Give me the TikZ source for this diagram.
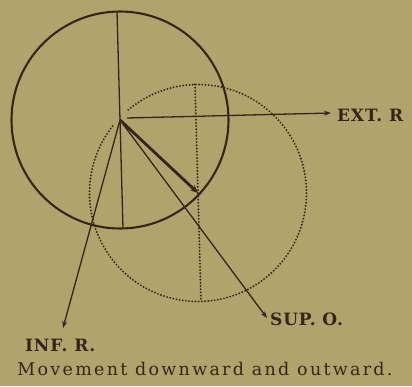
\documentclass[tikz,border=0pt]{standalone}
\usepackage{fontspec}
\setmainfont{DejaVu Serif}
\usetikzlibrary{arrows.meta}
\definecolor{paper}{RGB}{176,164,108}
\definecolor{ink}{RGB}{52,38,22}
\tikzset{
  solidcirc/.style={draw=ink, line width=2.1pt},
  dotcirc/.style={draw=ink, line width=2.1pt, line cap=round, dash pattern=on 0pt off 3.2pt},
  thinline/.style={draw=ink, line width=1.3pt},
  thinarrow/.style={draw=ink, line width=1.3pt, -{Stealth[length=7pt,width=5pt]}},
  thickarrow/.style={draw=ink, line width=2.8pt, -{Stealth[length=8pt,width=7pt]}},
  lab/.style={text=ink, font=\fontsize{17}{19}\selectfont\bfseries\addfontfeatures{LetterSpace=5}, inner sep=0pt},
  captiontext/.style={text=ink, font=\fontsize{17.5}{20}\selectfont\addfontfeatures{LetterSpace=13}, inner sep=0pt}
}
\begin{document}
\begin{tikzpicture}[x=1pt,y=-1pt]
\fill[paper] (0,0) rectangle (412,386);
\useasboundingbox (0,0) rectangle (412,386);
% centres
\coordinate (A) at (120,120);
\coordinate (B) at (198,193);
% solid circle and its diameter
\draw[solidcirc] (A) circle[radius=108.5];
\coordinate (Atop) at (117,11.5);
\coordinate (Abot) at (123,228.5);
\draw[thinline] (Atop) -- (Abot);
% dotted circle and its diameter
\draw[dotcirc] (B) ++(230:108.5) arc[start angle=230, end angle=579, radius=108.5];
\coordinate (Btop) at (195,84.5);
\coordinate (Bbot) at (201,301.5);
\draw[dotcirc] (Btop) -- (Bbot);
% movement arrow
\draw[thickarrow] (A) -- (B);
% labels
\node[lab, anchor=west] (ext) at (337,115) {EXT. R};
\node[lab, anchor=west] (sup) at (270,319) {SUP. O.};
\node[lab, anchor=west] (inf) at (25,345) {INF. R.};
\coordinate (extS) at (127,118);
\coordinate (extE) at (331,113);
\coordinate (supE) at (267,318);
\coordinate (infE) at (63,328);
\draw[thinarrow] (extS) -- (extE);
\draw[thinarrow] (A) -- (supE);
\draw[thinarrow] (A) -- (infE);
\node[captiontext] (caption) at (205,369) {Movement downward and outward.};
\end{tikzpicture}
\end{document}
